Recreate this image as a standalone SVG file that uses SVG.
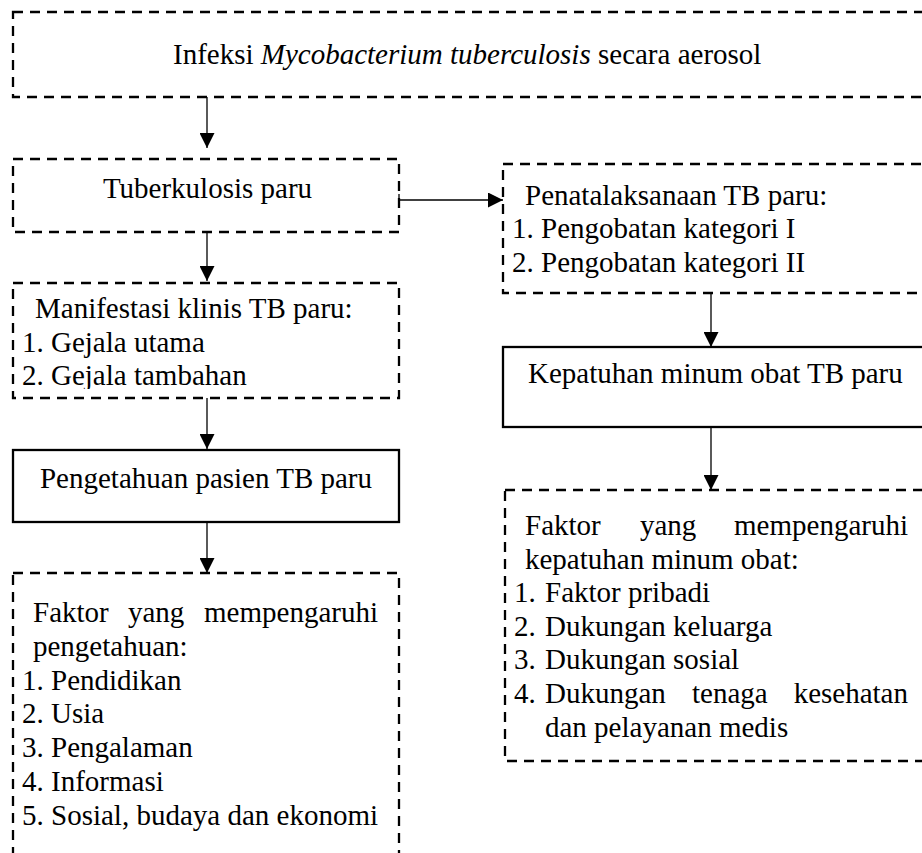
<svg xmlns="http://www.w3.org/2000/svg" width="922" height="853" viewBox="0 0 922 853">
<style>
  text { font-family: "Liberation Serif", "Times New Roman", serif; font-size: 29px; fill: #000; }
  .dash { fill: none; stroke: #000; stroke-width: 2.3; stroke-dasharray: 10 7; }
  .solid { fill: none; stroke: #000; stroke-width: 2.3; }
  .conn { fill: none; stroke: #000; stroke-width: 1.3; marker-end: url(#arr); }
  .c { text-anchor: middle; }
  .e { text-anchor: end; }
</style>
<defs>
  <marker id="arr" viewBox="0 0 15 15" refX="15" refY="7.5" markerWidth="15" markerHeight="15" markerUnits="userSpaceOnUse" orient="auto">
    <path d="M0,0 L15,7.5 L0,15 Z" fill="#000"/>
  </marker>
  <clipPath id="clipMan">
    <rect x="0" y="283" width="420" height="106"/>
  </clipPath>
</defs>
<rect width="922" height="853" fill="#fff"/>

<g id="connectors">
  <line class="conn" x1="207" y1="97" x2="207" y2="148"/>
  <line class="conn" x1="207" y1="232" x2="207" y2="281"/>
  <line class="conn" x1="207" y1="398" x2="207" y2="449"/>
  <line class="conn" x1="207" y1="522" x2="207" y2="573"/>
  <line class="conn" x1="399" y1="200" x2="503" y2="200"/>
  <line class="conn" x1="711" y1="293" x2="711" y2="347"/>
  <line class="conn" x1="711" y1="427" x2="711" y2="490"/>
  <line x1="399" y1="194" x2="399" y2="206" stroke="#000" stroke-width="1.3"/>
</g>

<g id="node-infeksi">
  <rect class="dash" x="13" y="12" width="930" height="85"/>
  <text x="173" y="64">Infeksi <tspan font-style="italic">Mycobacterium tuberculosis</tspan> secara aerosol</text>
</g>

<g id="node-tb">
  <rect class="dash" x="13" y="159" width="386" height="73"/>
  <text class="c" x="207.5" y="198">Tuberkulosis paru</text>
</g>

<g id="node-manifestasi">
  <rect class="dash" x="13" y="283" width="386" height="115"/>
  <g clip-path="url(#clipMan)">
    <text x="35" y="318">Manifestasi klinis TB paru:</text>
    <text x="22" y="352">1. Gejala utama</text>
    <text x="22" y="385">2. Gejala tambahan</text>
  </g>
</g>

<g id="node-pengetahuan">
  <rect class="solid" x="13" y="450" width="386" height="72"/>
  <text class="c" x="206" y="488">Pengetahuan pasien TB paru</text>
</g>

<g id="node-faktor-pengetahuan">
  <rect class="dash" x="13" y="573" width="386" height="300"/>
  <text x="33" y="622">Faktor</text>
  <text x="128" y="622">yang</text>
  <text class="e" x="378" y="622">mempengaruhi</text>
  <text x="33" y="656">pengetahuan:</text>
  <text x="22" y="690">1. Pendidikan</text>
  <text x="22" y="723">2. Usia</text>
  <text x="22" y="757">3. Pengalaman</text>
  <text x="22" y="791">4. Informasi</text>
  <text x="22" y="825">5. Sosial, budaya dan ekonomi</text>
</g>

<g id="node-penatalaksanaan">
  <rect class="dash" x="503" y="164" width="440" height="129"/>
  <text x="525" y="205">Penatalaksanaan TB paru:</text>
  <text x="512" y="238">1. Pengobatan kategori I</text>
  <text x="512" y="272">2. Pengobatan kategori II</text>
</g>

<g id="node-kepatuhan">
  <rect class="solid" x="503" y="347" width="440" height="80"/>
  <text x="528" y="383">Kepatuhan minum obat TB paru</text>
</g>

<g id="node-faktor-kepatuhan">
  <rect class="dash" x="505" y="490" width="440" height="271"/>
  <text x="525" y="535">Faktor</text>
  <text x="640" y="535">yang</text>
  <text class="e" x="908" y="535">mempengaruhi</text>
  <text x="525" y="569">kepatuhan minum obat:</text>
  <text x="514" y="602">1.</text><text x="545" y="602">Faktor pribadi</text>
  <text x="514" y="636">2.</text><text x="545" y="636">Dukungan keluarga</text>
  <text x="514" y="669">3.</text><text x="545" y="669">Dukungan sosial</text>
  <text x="514" y="703">4.</text><text x="545" y="703">Dukungan</text>
  <text x="692" y="703">tenaga</text>
  <text class="e" x="908" y="703">kesehatan</text>
  <text x="545" y="737">dan pelayanan medis</text>
</g>
</svg>
